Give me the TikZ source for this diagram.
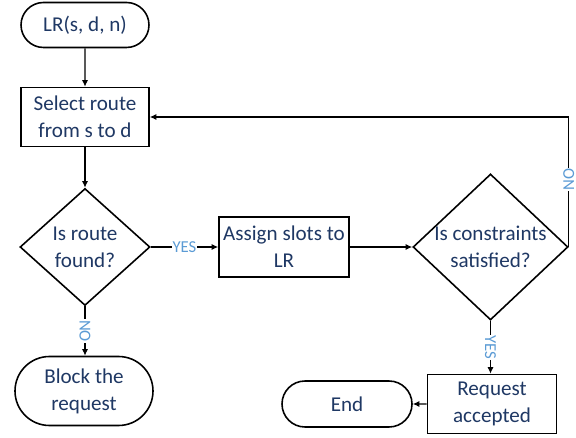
\documentclass[tikz,border=0pt]{standalone}
\usepackage{fontspec}
\setmainfont{Carlito}
\usetikzlibrary{arrows.meta,shapes.geometric,shapes.misc}
\definecolor{flowtext}{HTML}{1F3864}
\definecolor{flowlabel}{HTML}{5B9BD5}

\begin{document}
\begin{tikzpicture}[
    terminal/.style={rounded rectangle, draw=black, line width=0.9pt, fill=white, align=center,
                     text=flowtext, font=\fontsize{12}{15.5}\selectfont, inner sep=0pt},
    process/.style={rectangle, draw=black, line width=0.9pt, fill=white, align=center,
                    text=flowtext, font=\fontsize{12}{15.5}\selectfont, inner sep=0pt},
    decision/.style={diamond, draw=black, line width=0.9pt, fill=white, align=center,
                     text=flowtext, font=\fontsize{12}{15.5}\selectfont, inner sep=0pt},
    arrow/.style={-{Latex[length=1.3mm, width=1.2mm]}, draw=black, line width=0.6pt},
    branch/.style={font=\fontsize{9.5}{10}\selectfont, text=flowlabel, fill=white, inner sep=0.4pt}
  ]
    \useasboundingbox (0,0) rectangle (11.52,-8.76);

    \node[terminal, minimum width=2.56cm, minimum height=0.90cm] (start)  at (1.70,-0.50) {LR(s, d, n)};
    \node[process,  minimum width=2.56cm, minimum height=1.18cm] (select) at (1.70,-2.34) {Select route\\from s to d};
    \node[decision, minimum width=2.60cm, minimum height=2.34cm] (found)  at (1.70,-4.94) {Is route\\found?};
    \node[process,  minimum width=2.60cm, minimum height=1.20cm] (assign) at (5.68,-4.94) {Assign slots to\\LR};
    \node[decision, minimum width=3.10cm, minimum height=2.92cm, inner xsep=-9pt] (check) at (9.81,-4.94) {Is constraints\\satisfied?};
    \node[process,  minimum width=2.58cm, minimum height=1.18cm] (accept) at (9.84,-8.08) {Request\\accepted};
    \node[terminal, minimum width=2.60cm, minimum height=0.92cm] (stop)   at (6.94,-8.08) {End};
    \node[terminal, minimum width=2.76cm, minimum height=1.38cm] (block)  at (1.68,-7.82) {Block the\\request};

    \draw[arrow] (start) -- (select);
    \draw[arrow] (select) -- (found);
    \draw[arrow] (found) -- node[branch] {YES} (assign);
    \draw[arrow] (assign) -- (check);
    \draw[arrow] (found.south) -- node[branch, rotate=-90] {NO} (found.south |- block.north);
    \draw[arrow] (check.south) -- node[branch, rotate=-90] {YES} (check.south |- accept.north);
    \draw[arrow] (accept) -- (stop);
    \draw[arrow] (check.east) |- node[branch, rotate=90, pos=0.26] {NO} (select.east);
  \end{tikzpicture}
\end{document}
